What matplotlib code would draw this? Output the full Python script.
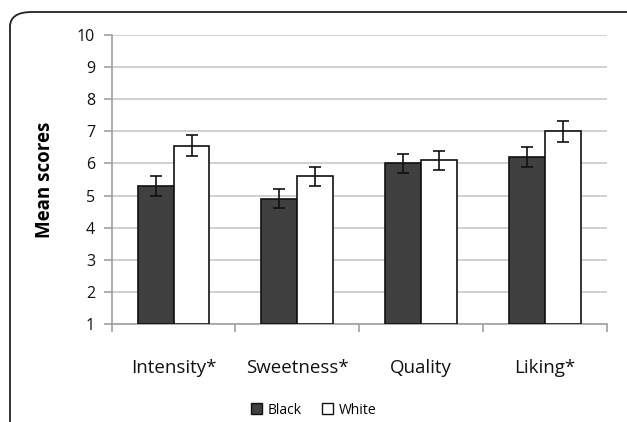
import numpy as np
import matplotlib
matplotlib.use("Agg")
import matplotlib.pyplot as plt
from matplotlib.patches import FancyBboxPatch, Patch

categories = ["Intensity*", "Sweetness*", "Quality", "Liking*"]
black_means = [5.3, 4.9, 6.0, 6.2]
white_means = [6.55, 5.6, 6.1, 7.0]
black_err = [0.3, 0.3, 0.3, 0.3]
white_err = [0.33, 0.3, 0.3, 0.33]

plt.rcParams["font.family"] = ["Open Sans", "DejaVu Sans"]

fig = plt.figure(figsize=(6.27, 4.22), dpi=100)

# rounded frame around the chart (runs off the right/bottom edge)
frame = FancyBboxPatch((10 / 627, -0.2), 1.2, 1 - 12 / 422 + 0.2,
                       boxstyle="round,pad=0,rounding_size=0.035",
                       transform=fig.transFigure, fill=False,
                       edgecolor="#222222", linewidth=1.3)
fig.patches.append(frame)

ax = fig.add_axes([111.7 / 627, 1 - 324 / 422, 495 / 627, 289 / 422])

x = np.arange(len(categories))
w = 0.29
ekw = dict(ecolor="#111111", elinewidth=1.2, capsize=4, capthick=1.2)
ax.bar(x - w / 2, [m - 1 for m in black_means], w, bottom=1,
       color="#404040", edgecolor="#111111", linewidth=1.2,
       yerr=black_err, error_kw=ekw, zorder=3)
ax.bar(x + w / 2, [m - 1 for m in white_means], w, bottom=1,
       color="white", edgecolor="#111111", linewidth=1.2,
       yerr=white_err, error_kw=ekw, zorder=3)

ax.set_xlim(-0.5, len(categories) - 0.5)
ax.set_ylim(1, 10)
ax.set_yticks(range(1, 11))
ax.yaxis.grid(True, color="#c8c8c8", linewidth=1.2, zorder=0)
ax.set_axisbelow(True)

for s in ["top", "right"]:
    ax.spines[s].set_visible(False)
for s in ["left", "bottom"]:
    ax.spines[s].set_color("#a0a0a0")
    ax.spines[s].set_linewidth(1.2)

ax.set_xticks(np.arange(-0.5, len(categories)), minor=False)
ax.set_xticklabels([])
ax.set_xticks(x, minor=True)
ax.set_xticklabels(categories, minor=True, fontsize=13.5, color="#111111")
ax.tick_params(axis="x", which="major", direction="out", length=6,
               color="#a0a0a0", width=1.2)
ax.tick_params(axis="x", which="minor", length=0, pad=25)
ax.tick_params(axis="y", direction="out", length=6, color="#a0a0a0",
               width=1.2, labelsize=11.5, labelcolor="#111111", pad=6)

ax.set_ylabel("Mean scores", fontsize=13.5, fontweight="bold", labelpad=16)

handles = [Patch(facecolor="#404040", edgecolor="#111111", label="Black"),
           Patch(facecolor="white", edgecolor="#111111", label="White")]
fig.legend(handles=handles, loc="center", bbox_to_anchor=(0.5, 1 - 410 / 422),
           ncol=2, frameon=False, fontsize=10, handlelength=0.8,
           handleheight=0.8, handletextpad=0.4, columnspacing=1.5)

fig.savefig("out.png", dpi=100)
